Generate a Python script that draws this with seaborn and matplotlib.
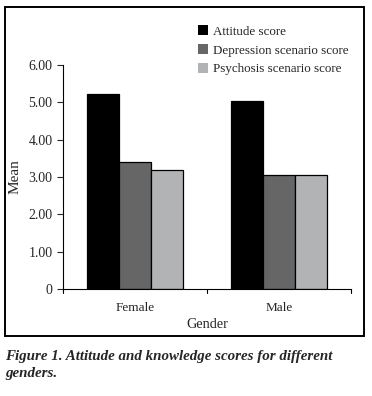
import matplotlib.pyplot as plt
import matplotlib.patches as mpatches
import seaborn as sns
import pandas as pd

# Datos
genders = ["Female", "Male"]
attitude = [5.22, 5.04]
depression = [3.40, 3.05]
psychosis = [3.18, 3.05]
series_names = ["Attitude score", "Depression scenario score", "Psychosis scenario score"]
series_colors = ["#000000", "#666666", "#b2b3b5"]
ytick_vals = [0, 1, 2, 3, 4, 5, 6]
ytick_labels = ["0", "1.00", "2.00", "3.00", "4.00", "5.00", "6.00"]

rows = []
for name, vals in zip(series_names, [attitude, depression, psychosis]):
    for g, v in zip(genders, vals):
        rows.append({"Gender": g, "Series": name, "Mean": v})
df = pd.DataFrame(rows)

sns.set_theme(style="white")
plt.rcParams["font.family"] = ["Liberation Serif", "DejaVu Serif"]

fig = plt.figure(figsize=(3.72, 3.96), dpi=100)
ax = fig.add_axes([0.169, 0.270, 0.775, 0.566])

sns.barplot(data=df, x="Gender", y="Mean", hue="Series", order=genders,
            hue_order=series_names, palette=series_colors, width=0.667,
            edgecolor="black", linewidth=0.9, saturation=1, ax=ax)

ax.set_ylim(0, 6)
ax.set_xlim(-0.5, 1.5)
ax.set_yticks(ytick_vals)
ax.set_yticklabels(ytick_labels, fontsize=10)
ax.set_xticks([0, 1])
ax.set_xticklabels(genders, fontsize=9.5)
ax.tick_params(axis="x", length=0, pad=9)
ax.tick_params(axis="y", direction="out", length=4.5, width=0.8, left=True, pad=3)
# ticks del eje x en los limites de categoria
for xb in [-0.5, 0.5, 1.5]:
    ax.plot([xb, xb], [0, -0.1], color="black", lw=0.8, clip_on=False)

for s in ["top", "right"]:
    ax.spines[s].set_visible(False)
for s in ["left", "bottom"]:
    ax.spines[s].set_color("black")
    ax.spines[s].set_linewidth(0.8)

ax.set_xlabel("Gender", fontsize=10.3, labelpad=3)
ax.set_ylabel("Mean", fontsize=11, labelpad=5)

handles = [mpatches.Patch(facecolor=c, edgecolor="none") for c in series_colors]
ax.legend(handles, series_names, loc="upper left", bbox_to_anchor=(0.45, 1.20),
          frameon=False, fontsize=9.4, handlelength=0.75, handleheight=0.75,
          handletextpad=0.4, labelspacing=0.5, borderaxespad=0)

# marco alrededor del grafico
fig.patches.append(mpatches.Rectangle((5 / 372, 1 - 336 / 396), 359 / 372, 329 / 396,
                                      transform=fig.transFigure, fill=False,
                                      edgecolor="black", linewidth=1.4))

fig.text(5 / 372, 1 - 360 / 396, "Figure 1. Attitude and knowledge scores for different",
         fontsize=10.8, fontweight="bold", fontstyle="italic", ha="left", va="baseline")
fig.text(5 / 372, 1 - 377 / 396, "genders.",
         fontsize=10.8, fontweight="bold", fontstyle="italic", ha="left", va="baseline")

fig.savefig("out.png", dpi=100)
